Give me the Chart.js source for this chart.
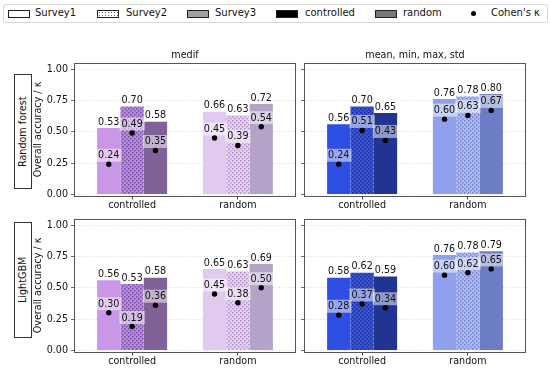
<!DOCTYPE html>
<html>
<head>
<meta charset="utf-8">
<script src="https://cdn.jsdelivr.net/npm/chart.js@4.4.0/dist/chart.umd.min.js"></script>
<style>
  body { margin: 0; background: #fff; font-family: "DejaVu Sans", sans-serif; }
  #page { position: relative; width: 550px; height: 369px; overflow: hidden; }
  canvas { position: absolute; }
  #legend { position: absolute; left: 3px; top: 4px; width: 543px; height: 17px; border: 1px solid #d6d6d6; border-radius: 3px; font-size: 10px; }
  .sw { position: absolute; top: 5px; width: 20px; height: 6px; border: 1px solid #222; }
  .lt { position: absolute; top: 2px; line-height: 12px; color: #111; white-space: nowrap; }
  .dot { position: absolute; top: 6px; left: 467px; width: 5px; height: 5px; border-radius: 50%; background: #000; }
  .model { position: absolute; width: 16px; border: 1px solid #333; writing-mode: vertical-rl; transform: rotate(180deg);
           text-align: center; font-size: 9.6px; line-height: 16px; color: #111; }
</style>
</head>
<body>
<div id="page">
  <div id="legend">
    <div class="sw" style="left:4px;background:#fff"></div><div class="lt" style="left:31px">Survey1</div>
    <div class="sw" style="left:93px;background:radial-gradient(#666 0.7px, #fff 1px) 0 0/3px 3px"></div><div class="lt" style="left:122px">Survey2</div>
    <div class="sw" style="left:183px;background:#a0a0a0"></div><div class="lt" style="left:211px">Survey3</div>
    <div class="sw" style="left:272px;background:#000"></div><div class="lt" style="left:301px">controlled</div>
    <div class="sw" style="left:371px;background:#777"></div><div class="lt" style="left:399px">random</div>
    <div class="dot"></div><div class="lt" style="left:487px">Cohen's κ</div>
  </div>
  <div class="model" style="left:14px;top:74px;height:113px">Random forest</div>
  <div class="model" style="left:14px;top:222px;height:114px">LightGBM</div>
  <canvas id="rfMedif" width="300" height="169" style="left:0;top:44px"></canvas>
  <canvas id="rfMean" width="250" height="169" style="left:300px;top:44px"></canvas>
  <canvas id="lgbMedif" width="300" height="169" style="left:0;top:200px"></canvas>
  <canvas id="lgbMean" width="250" height="169" style="left:300px;top:200px"></canvas>
</div>
<script>
const categories = ['controlled', 'random'];
const surveys = ['Survey1', 'Survey2', 'Survey3'];
const yTicks = [0, 0.25, 0.5, 0.75, 1.0];

// one row per survey: [controlled, random]
const rfMedifAcc = [[0.53, 0.66], [0.70, 0.63], [0.58, 0.72]];
const rfMedifKappa = [[0.24, 0.45], [0.49, 0.39], [0.35, 0.54]];
const rfMeanAcc = [[0.56, 0.76], [0.70, 0.78], [0.65, 0.80]];
const rfMeanKappa = [[0.24, 0.60], [0.51, 0.63], [0.43, 0.67]];
const lgbMedifAcc = [[0.56, 0.65], [0.53, 0.63], [0.58, 0.69]];
const lgbMedifKappa = [[0.30, 0.45], [0.19, 0.38], [0.36, 0.50]];
const lgbMeanAcc = [[0.58, 0.76], [0.62, 0.78], [0.59, 0.79]];
const lgbMeanKappa = [[0.28, 0.60], [0.37, 0.62], [0.34, 0.65]];

Chart.defaults.font.family = '"DejaVu Sans", sans-serif';
Chart.defaults.font.size = 9.6;
Chart.defaults.color = '#111';

// dotted hatch like matplotlib '...'
function dots(base, dot) {
    const c = document.createElement('canvas');
    c.width = 4; c.height = 4;
    const g = c.getContext('2d');
    g.fillStyle = base;
    g.fillRect(0, 0, 4, 4);
    g.fillStyle = dot;
    g.fillRect(0, 0, 1.5, 1.5);
    g.fillRect(2, 2, 1.5, 1.5);
    return g.createPattern(c, 'repeat');
}

const purple = [
    ['#c996e8', '#e0caef'],
    [dots('#b48bd9', '#7b50a5'), dots('#e3d1ef', '#b293cb')],
    ['#806298', '#b5a2c8']
];
const blue = [
    ['#2f4fe2', '#8fa0ef'],
    [dots('#3655de', '#1b2c92'), dots('#aeb9ef', '#7384d2')],
    ['#1f3591', '#6d7dc5']
];

const frame = {
    id: 'frame',
    afterDraw(chart) {
        const { ctx, chartArea: a } = chart;
        ctx.save();
        ctx.strokeStyle = '#555';
        ctx.lineWidth = 1;
        ctx.strokeRect(Math.round(a.left) - 0.5, Math.round(a.top) + 0.5,
            Math.round(a.right - a.left) + 1, Math.round(a.bottom - a.top));
        ctx.restore();
    }
};

function valueLabels(kappa) {
    return {
        id: 'values',
        afterDatasetsDraw(chart) {
            const ctx = chart.ctx;
            const y = chart.scales.y;
            ctx.save();
            ctx.font = '9.6px "DejaVu Sans"';
            ctx.textAlign = 'center';
            chart.data.datasets.forEach((ds, i) => {
                chart.getDatasetMeta(i).data.forEach((bar, j) => {
                    ctx.fillStyle = '#111';
                    ctx.textBaseline = 'bottom';
                    ctx.fillText(ds.data[j].y.toFixed(2), bar.x, bar.y - 1);

                    const ky = y.getPixelForValue(kappa[i][j]);
                    const txt = kappa[i][j].toFixed(2);
                    const w = ctx.measureText(txt).width + 4;
                    const cy = ky - 9;
                    ctx.fillStyle = 'rgba(255,255,255,0.5)';
                    ctx.fillRect(bar.x - w / 2, cy - 6.5, w, 13);
                    ctx.fillStyle = '#111';
                    ctx.textBaseline = 'middle';
                    ctx.fillText(txt, bar.x, cy + 0.5);
                    ctx.fillStyle = '#000';
                    ctx.beginPath();
                    ctx.arc(bar.x, ky, 2.7, 0, Math.PI * 2);
                    ctx.fill();
                });
            });
            ctx.restore();
        }
    };
}

function panel(id, acc, kappa, colors, title, showY) {
    new Chart(document.getElementById(id), {
        type: 'bar',
        data: {
            datasets: surveys.map((s, i) => ({
                label: s,
                data: categories.map((c, j) => ({ x: j, y: acc[i][j] })),
                backgroundColor: colors[i],
                borderWidth: 0,
                categoryPercentage: 0.662,
                barPercentage: 1
            }))
        },
        options: {
            responsive: false,
            animation: false,
            layout: { padding: { left: 0, right: showY ? 5 : 25, top: title ? 0 : 19, bottom: 0 } },
            plugins: {
                legend: { display: false },
                tooltip: { enabled: false },
                title: {
                    display: !!title,
                    text: title,
                    fullSize: false,
                    color: '#111',
                    font: { size: 9.6, weight: 'normal' },
                    padding: { top: 6, bottom: 1.48 }
                }
            },
            scales: {
                x: {
                    type: 'linear',
                    min: -0.54,
                    max: 1.54,
                    offset: false,
                    afterBuildTicks: s => { s.ticks = categories.map((c, j) => ({ value: j })); },
                    afterFit: s => { s.height = 17; },
                    ticks: { callback: v => categories[v], padding: 0.5, maxRotation: 0, autoSkip: false, color: '#111' },
                    grid: { display: true, drawOnChartArea: false, offset: false, tickLength: 3.5, tickColor: '#444' },
                    border: { display: false }
                },
                y: {
                    min: -0.013,
                    max: 1.048,
                    afterBuildTicks: s => { s.ticks = yTicks.map(v => ({ value: v })); },
                    afterFit: s => { s.width = showY ? 75 : 5; },
                    ticks: { display: showY, callback: v => v.toFixed(2), padding: 3, color: '#111' },
                    grid: { color: '#d2d2d2', lineWidth: 0.8, tickColor: '#444', tickLength: 4 },
                    border: { display: false, dash: [1, 2] },
                    title: {
                        display: showY,
                        text: 'Overall accuracy / κ',
                        color: '#111',
                        font: { size: 9.6 },
                        padding: { top: 33, bottom: 0 }
                    }
                }
            }
        },
        plugins: [valueLabels(kappa), frame]
    });
}

panel('rfMedif', rfMedifAcc, rfMedifKappa, purple, 'medif', true);
panel('rfMean', rfMeanAcc, rfMeanKappa, blue, 'mean, min, max, std', false);
panel('lgbMedif', lgbMedifAcc, lgbMedifKappa, purple, '', true);
panel('lgbMean', lgbMeanAcc, lgbMeanKappa, blue, '', false);
</script>
</body>
</html>
